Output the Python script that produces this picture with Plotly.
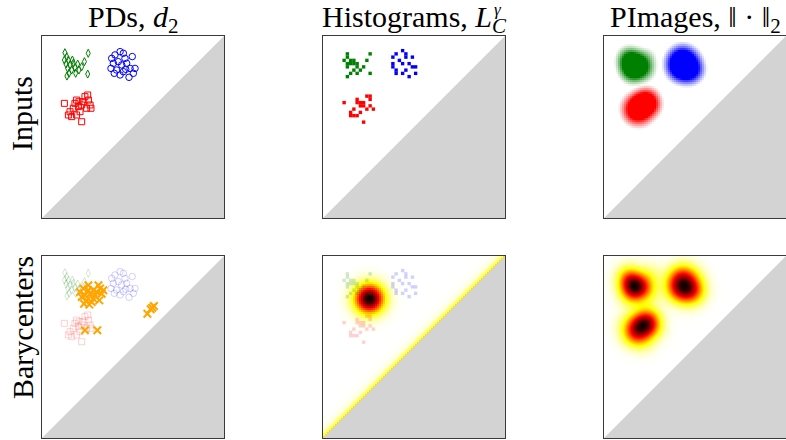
import numpy as np
import plotly.graph_objects as go

# ---------------- data ----------------
green_x = [0.126, 0.136, 0.123, 0.145, 0.154, 0.141, 0.148, 0.163, 0.172, 0.181,
           0.196, 0.203, 0.218, 0.233, 0.254, 0.251, 0.137, 0.167, 0.132, 0.185]
green_y = [0.908, 0.886, 0.868, 0.868, 0.841, 0.822, 0.795, 0.813, 0.850, 0.828,
           0.846, 0.813, 0.831, 0.859, 0.905, 0.791, 0.780, 0.868, 0.846, 0.795]

blue_x = [0.383, 0.401, 0.429, 0.447, 0.456, 0.496, 0.392, 0.419, 0.438, 0.465,
          0.484, 0.511, 0.502, 0.410, 0.397, 0.447, 0.478, 0.429, 0.379, 0.460]
blue_y = [0.877, 0.896, 0.914, 0.905, 0.877, 0.887, 0.850, 0.859, 0.841, 0.850,
          0.822, 0.822, 0.795, 0.813, 0.795, 0.804, 0.773, 0.786, 0.822, 0.817]

red_x = [0.123, 0.154, 0.145, 0.172, 0.181, 0.190, 0.200, 0.209, 0.218, 0.227,
         0.236, 0.251, 0.255, 0.264, 0.269, 0.245, 0.190, 0.163, 0.218, 0.203]
red_y = [0.630, 0.584, 0.566, 0.603, 0.630, 0.648, 0.612, 0.584, 0.621, 0.639,
         0.667, 0.676, 0.648, 0.621, 0.603, 0.603, 0.566, 0.557, 0.529, 0.639]

bary_x = [0.209, 0.227, 0.255, 0.264, 0.236, 0.218, 0.245, 0.273, 0.282, 0.291,
          0.300, 0.310, 0.319, 0.328, 0.315, 0.260, 0.231, 0.282, 0.337, 0.255,
          0.236, 0.304, 0.579, 0.597, 0.606, 0.615]
bary_y = [0.802, 0.821, 0.839, 0.793, 0.784, 0.775, 0.756, 0.747, 0.766, 0.784,
          0.802, 0.839, 0.821, 0.793, 0.756, 0.733, 0.738, 0.812, 0.812, 0.812,
          0.592, 0.592, 0.683, 0.707, 0.716, 0.725]

col_titles = ["PDs, <i>d</i><sub>2</sub>",
              "Histograms, <i>L</i><sub><i>C</i></sub>",
              "PImages, ‖ · ‖<sub>2</sub>"]
row_titles = ["Inputs", "Barycenters"]

hist_step = 1 / 56          # histogram bin size
pimage_sigma = 0.045        # persistence-image kernel width
hist_bary_center = (0.255, 0.765)
hist_bary_sigma = 0.055
diag_mass_peak = 0.30
diag_mass_decay = 0.022

# ---------------- layout geometry ----------------
W, H = 786, 440
col_px = [(42, 224), (323, 505), (604, 786)]
row_px = [(36, 218), (256, 438)]
row_label_center = [114, 328]
BORDER = '#3a3a3a'
TRI = '#d3d3d3'
FONT = 'Liberation Serif'

COLORS = {'green': (0, 128, 0), 'blue': (0, 0, 255), 'red': (255, 0, 0)}


def rgba(name, a):
    r, g, b = COLORS[name]
    return f'rgba({r},{g},{b},{a})'


def axref(k):
    return ('x' if k == 1 else f'x{k}'), ('y' if k == 1 else f'y{k}')


fig = go.Figure()
axes_layout = {}
for r in range(2):
    for c in range(3):
        k = r * 3 + c + 1
        xl, xr = col_px[c]
        yt, yb = row_px[r]
        common = dict(range=[0, 1], showgrid=False, zeroline=False,
                      showticklabels=False, ticks='', showline=True, mirror=True,
                      linecolor=BORDER, linewidth=1.2, fixedrange=True)
        xa, ya = axref(k)
        axes_layout['xaxis' if k == 1 else f'xaxis{k}'] = dict(domain=[xl / W, xr / W], anchor=ya, **common)
        axes_layout['yaxis' if k == 1 else f'yaxis{k}'] = dict(domain=[1 - yb / H, 1 - yt / H], anchor=xa, **common)


def add_triangle(k):
    xa, ya = axref(k)
    fig.add_trace(go.Scatter(x=[0, 1, 1, 0], y=[0, 0, 1, 0], mode='lines', fill='toself',
                             fillcolor=TRI, line=dict(width=0, color=TRI),
                             hoverinfo='skip', showlegend=False, xaxis=xa, yaxis=ya))


clusters = [(green_x, green_y, 'green', 'diamond-tall-open', 5.8),
            (blue_x, blue_y, 'blue', 'circle-open', 6.5),
            (red_x, red_y, 'red', 'square-open', 6)]


def add_pd(k, alpha):
    xa, ya = axref(k)
    for xs, ys, col, sym, sz in clusters:
        fig.add_trace(go.Scatter(x=xs, y=ys, mode='markers',
                                 marker=dict(symbol=sym, size=sz, color=rgba(col, alpha),
                                             line=dict(width=1, color=rgba(col, alpha))),
                                 hoverinfo='skip', showlegend=False, xaxis=xa, yaxis=ya))


def hist_points(xs, ys):
    pts = sorted({(int(np.floor(x / hist_step)), int(np.floor(y / hist_step))) for x, y in zip(xs, ys)})
    hx = [(i + 0.5) * hist_step for i, _ in pts]
    hy = [(j + 0.5) * hist_step for _, j in pts]
    return hx, hy


def add_hist(k, alpha):
    xa, ya = axref(k)
    for xs, ys, col, _, _ in clusters:
        hx, hy = hist_points(xs, ys)
        fig.add_trace(go.Scatter(x=hx, y=hy, mode='markers',
                                 marker=dict(symbol='square', size=3.4, color=rgba(col, alpha),
                                             line=dict(width=0)),
                                 hoverinfo='skip', showlegend=False, xaxis=xa, yaxis=ya))


# grid for images
n = 91
g = (np.arange(n) + 0.5) / n
GX, GY = np.meshgrid(g, g)


def pimage(xs, ys):
    I = np.zeros_like(GX)
    for x, y in zip(xs, ys):
        I += np.exp(-((GX - x) ** 2 + (GY - y) ** 2) / (2 * pimage_sigma ** 2))
    return I / I.max()


pims = {col: pimage(xs, ys) for xs, ys, col, _, _ in clusters}

# hot_r colorscale (matplotlib 'hot' reversed)
HOT_R = [[0.0, 'rgb(255,255,255)'], [0.253968, 'rgb(255,255,0)'],
         [0.634921, 'rgb(255,0,0)'], [1.0, 'rgb(11,0,0)']]

# ---- Panel 1: PDs inputs
add_triangle(1)
add_pd(1, 1.0)

# ---- Panel 2: histogram inputs
add_triangle(2)
add_hist(2, 1.0)

# ---- Panel 3: persistence images inputs
img = np.ones((n, n, 3))
lo, hi = 0.12, 0.5
for col in ['green', 'blue', 'red']:
    a = np.clip((pims[col] - lo) / (hi - lo), 0, 1)[..., None]
    cc = np.array(COLORS[col]) / 255.0
    img = img * (1 - a) + cc * a
fig.add_trace(go.Image(z=(img * 255).round().astype(int).tolist(), colormodel='rgb',
                       x0=g[0], dx=1 / n, y0=g[0], dy=1 / n,
                       hoverinfo='skip', xaxis='x3', yaxis='y3'))
add_triangle(3)

# ---- Panel 4: PD barycenter
add_triangle(4)
add_pd(4, 0.18)
fig.add_trace(go.Scatter(x=bary_x, y=bary_y, mode='markers',
                         marker=dict(symbol='x-thin', size=7.5, color='orange',
                                     line=dict(width=2, color='orange')),
                         hoverinfo='skip', showlegend=False, xaxis='x4', yaxis='y4'))

# ---- Panel 5: histogram barycenter
cx, cy = hist_bary_center
Z5 = np.exp(-((GX - cx) ** 2 + (GY - cy) ** 2) / (2 * hist_bary_sigma ** 2))
Z5 = Z5 + diag_mass_peak * np.exp(-np.clip(GY - GX, 0, None) / diag_mass_decay)
Z5 = np.clip(Z5, 0, 1)
fig.add_trace(go.Heatmap(x=g, y=g, z=Z5.tolist(), colorscale=HOT_R, zmin=0, zmax=1,
                         showscale=False, hoverinfo='skip', xaxis='x5', yaxis='y5'))
add_triangle(5)
add_hist(5, 0.18)

# ---- Panel 6: persistence image barycenter
M = (pims['green'] + pims['blue'] + pims['red']) / 3
M = M / M.max()
fig.add_trace(go.Heatmap(x=g, y=g, z=M.tolist(), colorscale=HOT_R, zmin=0, zmax=1,
                         zsmooth='best', showscale=False, hoverinfo='skip',
                         xaxis='x6', yaxis='y6'))
add_triangle(6)

# ---------------- annotations ----------------
ann = []
for c, t in enumerate(col_titles):
    xl, xr = col_px[c]
    ann.append(dict(text=t, x=(xl + xr) / 2 / W, y=1 - 19 / H, xref='paper', yref='paper',
                    xanchor='center', yanchor='middle', showarrow=False,
                    font=dict(family=FONT, size=30, color='black')))
# gamma superscript stacked over the C subscript
ann.append(dict(text='<i>γ</i>', x=498 / W, y=1 - 9.5 / H, xref='paper', yref='paper',
                xanchor='center', yanchor='middle', showarrow=False,
                font=dict(family=FONT, size=17, color='black')))
for r, t in enumerate(row_titles):
    ann.append(dict(text=t, x=22 / W, y=1 - row_label_center[r] / H, xref='paper', yref='paper',
                    xanchor='center', yanchor='middle', textangle=-90, showarrow=False,
                    font=dict(family=FONT, size=30, color='black')))

fig.update_layout(width=W, height=H, autosize=False,
                  margin=dict(l=0, r=0, t=0, b=0),
                  paper_bgcolor='white', plot_bgcolor='white',
                  showlegend=False, annotations=ann, **axes_layout)

fig.write_html("out.html", config={'displayModeBar': False},
               post_script="document.body.style.margin='0';document.body.style.overflow='hidden';")
